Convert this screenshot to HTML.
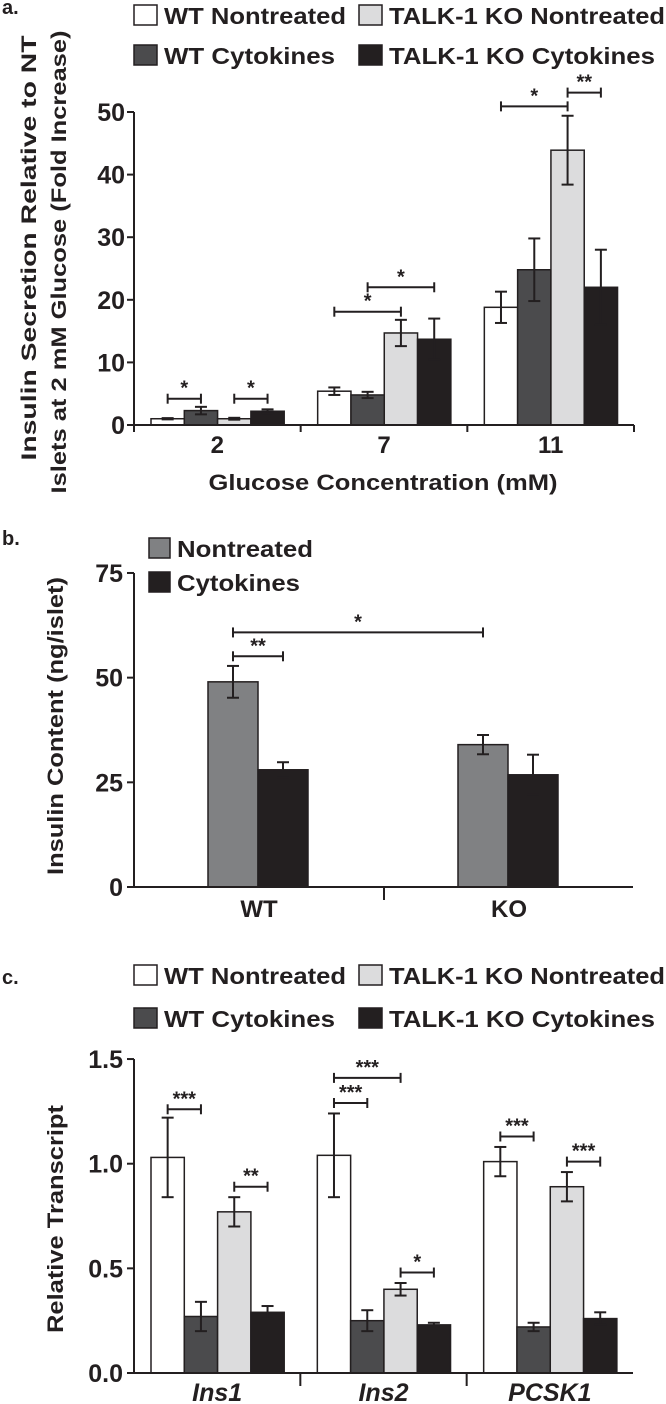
<!DOCTYPE html>
<html><head><meta charset="utf-8">
<style>
html,body{margin:0;padding:0;background:#fff;}
svg{display:block;font-family:"Liberation Sans",Arial,sans-serif;font-weight:bold;fill:#231f20;}
</style></head>
<body>
<svg id="fig" width="666" height="1404" viewBox="0 0 666 1404" xmlns="http://www.w3.org/2000/svg"></svg>
<script>
// ---------- Panel a data ----------
const aCategories = ["2", "7", "11"];
const aWTNT = [1.0, 5.4, 18.8];
const aWTNTerr = [0.1, 0.6, 2.5];
const aWTCy = [2.3, 4.8, 24.8];
const aWTCyerr = [0.6, 0.5, 5.0];
const aKONT = [1.0, 14.7, 43.9];
const aKONTerr = [0.15, 2.1, 5.5];
const aKOCy = [2.2, 13.7, 22.0];
const aKOCyerr = [0.3, 3.3, 6.0];
const aTicks = [0, 10, 20, 30, 40, 50];
// brackets: [group, barFrom, barTo, value, label]
const aSig = [[0,0,1,4.2,"*"],[0,2,3,4.2,"*"],[1,0,2,18.1,"*"],[1,1,3,22.0,"*"],[2,0,2,50.9,"*"],[2,2,3,53.1,"**"]];

// ---------- Panel b data ----------
const bCategories = ["WT", "KO"];
const bNT = [49.0, 34.0];
const bNTerr = [3.8, 2.3];
const bCy = [28.0, 26.8];
const bCyerr = [1.8, 4.8];
const bTicks = [0, 25, 50, 75];
// brackets: [groupFrom, barFrom, groupTo, barTo, value, label]
const bSig = [[0,0,0,1,55.1,"**"],[0,0,1,0,60.8,"*"]];

// ---------- Panel c data ----------
const cCategories = ["Ins1", "Ins2", "PCSK1"];
const cWTNT = [1.03, 1.04, 1.01];
const cWTNTerr = [0.19, 0.20, 0.07];
const cWTCy = [0.27, 0.25, 0.22];
const cWTCyerr = [0.07, 0.05, 0.02];
const cKONT = [0.77, 0.40, 0.89];
const cKONTerr = [0.07, 0.03, 0.07];
const cKOCy = [0.29, 0.23, 0.26];
const cKOCyerr = [0.03, 0.01, 0.03];
const cTicks = [0.0, 0.5, 1.0, 1.5];
const cTickLabels = ["0.0", "0.5", "1.0", "1.5"];
const cSig = [[0,0,1,1.26,"***"],[0,2,3,0.89,"**"],[1,0,1,1.29,"***"],[1,0,2,1.41,"***"],[1,2,3,0.48,"*"],[2,0,1,1.13,"***"],[2,2,3,1.01,"***"]];

const NS = "http://www.w3.org/2000/svg";
const svg = document.getElementById("fig");
const INK = "#231f20";
const COLS = ["#ffffff", "#4b4b4d", "#dcdcdd", "#231f20"];

function mk(tag, attrs, parent) {
  const e = document.createElementNS(NS, tag);
  for (const k in attrs) e.setAttribute(k, attrs[k]);
  (parent || svg).appendChild(e);
  return e;
}
function txt(s, x, y, size, anchor, extra, parent) {
  const t = mk("text", Object.assign({x: x, y: y, "font-size": size, "text-anchor": anchor || "start"}, extra || {}), parent);
  t.textContent = s;
  return t;
}
function line(x1, y1, x2, y2, w, parent) {
  return mk("line", {x1: x1, y1: y1, x2: x2, y2: y2, stroke: INK, "stroke-width": w || 2}, parent);
}
function errbar(cx, yTop, yBot, parent) {
  const g = mk("g", {}, parent);
  
  
  line(cx, yTop, cx, yBot, 2, g);
  line(cx - 6, yTop, cx + 6, yTop, 2, g);
  line(cx - 6, yBot, cx + 6, yBot, 2, g);
}
function bracket(x1, x2, y, label, parent) {
  const g = mk("g", {}, parent);
  
  
  line(x1, y, x2, y, 2, g);
  line(x1, y - 5, x1, y + 5, 2, g);
  line(x2, y - 5, x2, y + 5, 2, g);
  txt(label, (x1 + x2) / 2, y - 4, 20, "middle", {}, g);
}
function legendEntry(x, y, color, label, len, parent, bw, bh) {
  const g = mk("g", {}, parent);
  
  
  mk("rect", {x: x, y: y, width: bw || 23, height: bh || 20, fill: color, stroke: INK, "stroke-width": 1.5}, g);
  txt(label, x + (bw || 23) + 7, y + (bh || 20) - 1, 23, "start", {textLength: len, lengthAdjust: "spacingAndGlyphs"}, g);
}

// ===================== PANEL A =====================
(function(){
  const p = mk("g", {});
  
  
  txt("a.", 2, 14, 20, "start", {}, p);
  const leg = mk("g", {}, p);
  
  
  legendEntry(134, 5, COLS[0], "WT Nontreated", 182, leg);
  legendEntry(359, 5, COLS[2], "TALK-1 KO Nontreated", 276, leg);
  legendEntry(134, 45, COLS[1], "WT Cytokines", 171, leg);
  legendEntry(359, 45, COLS[3], "TALK-1 KO Cytokines", 266, leg);

  const X0 = 134, X1 = 634, Y0 = 425, K = 6.26;
  const y = v => Y0 - v * K;
  const gw = (X1 - X0) / aCategories.length, bw = 33.3, off = 17;
  const bx = (g, i) => X0 + g * gw + off + i * bw;

  const series = [[aWTNT, aWTNTerr], [aWTCy, aWTCyerr], [aKONT, aKONTerr], [aKOCy, aKOCyerr]];
  const names = ["wt-nontreated", "wt-cytokines", "ko-nontreated", "ko-cytokines"];
  series.forEach((s, i) => {
    s[0].forEach((v, g) => {
      const r = mk("rect", {x: bx(g, i), y: y(v), width: bw, height: Y0 - y(v), fill: COLS[i], stroke: INK, "stroke-width": 1.5}, p);
      
      
      errbar(bx(g, i) + bw / 2, y(v + s[1][g]), y(v - s[1][g]), p);
    });
  });
  aSig.forEach(s => bracket(bx(s[0], s[1]) + bw / 2, bx(s[0], s[2]) + bw / 2, y(s[3]), s[4], p));

  const ax = mk("g", {}, p);
  
  
  line(X0, y(aTicks[aTicks.length - 1]), X0, Y0 + 7, 2, ax);
  aTicks.forEach(t => {
    line(X0 - 7, y(t), X0, y(t), 2, ax);
    txt(String(t), X0 - 9, y(t) + 9, 25, "end", {}, ax);
  });
  const xa = mk("g", {}, p);
  
  
  line(X0, Y0, X1, Y0, 2, xa);
  for (let g = 0; g <= aCategories.length; g++) line(X0 + g * gw, Y0, X0 + g * gw, Y0 + 7, 2, xa);
  aCategories.forEach((c, g) => txt(c, X0 + g * gw + gw / 2, 453, 24, "middle", {}, xa));
  const xt = txt("Glucose Concentration (mM)", 383, 490, 22, "middle", {textLength: 349, lengthAdjust: "spacingAndGlyphs"}, p);
  
  
  const yt = mk("g", {}, p);
  
  
  txt("Insulin Secretion Relative to NT", 0, 0, 21, "middle", {transform: "translate(36,248) rotate(-90)", textLength: 425, lengthAdjust: "spacingAndGlyphs"}, yt);
  txt("Islets at 2 mM Glucose (Fold Increase)", 0, 0, 21, "middle", {transform: "translate(66,262) rotate(-90)", textLength: 463, lengthAdjust: "spacingAndGlyphs"}, yt);
})();

// ===================== PANEL B =====================
(function(){
  const p = mk("g", {});
  
  
  txt("b.", 2, 545, 20, "start", {}, p);
  const leg = mk("g", {}, p);
  
  
  legendEntry(149, 538, "#808183", "Nontreated", 136, leg, 21, 20);
  legendEntry(149, 572, "#231f20", "Cytokines", 123, leg, 21, 20);

  const X0 = 134, X1 = 633, Y0 = 887, K = 4.187;
  const y = v => Y0 - v * K;
  const gw = 250, bw = 50, off = 74;
  const bx = (g, i) => X0 + g * gw + off + i * bw;
  const series = [[bNT, bNTerr, "#808183", "nontreated"], [bCy, bCyerr, "#231f20", "cytokines"]];
  series.forEach((s, i) => {
    s[0].forEach((v, g) => {
      const r = mk("rect", {x: bx(g, i), y: y(v), width: bw, height: Y0 - y(v), fill: s[2], stroke: INK, "stroke-width": 1.5}, p);
      
      
      errbar(bx(g, i) + bw / 2, y(v + s[1][g]), y(v - s[1][g]), p);
    });
  });
  bSig.forEach(s => bracket(bx(s[0], s[1]) + bw / 2, bx(s[2], s[3]) + bw / 2, y(s[4]), s[5], p));

  const ax = mk("g", {}, p);
  
  
  line(X0, y(bTicks[bTicks.length - 1]), X0, Y0, 2, ax);
  bTicks.forEach(t => {
    line(X0 - 7, y(t), X0, y(t), 2, ax);
    txt(String(t), X0 - 11, y(t) + 9, 25, "end", {}, ax);
  });
  const xa = mk("g", {}, p);
  
  
  line(X0 - 7, Y0, X1, Y0, 2, xa);
  line(X0 + gw, Y0, X0 + gw, Y0 + 13, 2, xa);
  bCategories.forEach((c, g) => txt(c, X0 + g * gw + gw / 2, 917, 24, "middle", {}, xa));
  const yt = txt("Insulin Content (ng/islet)", 0, 0, 22, "middle", {transform: "translate(63,726) rotate(-90)", textLength: 298, lengthAdjust: "spacingAndGlyphs"}, p);
  
  
})();

// ===================== PANEL C =====================
(function(){
  const p = mk("g", {});
  
  
  txt("c.", 2, 984, 20, "start", {}, p);
  const leg = mk("g", {}, p);
  
  
  legendEntry(134, 965, COLS[0], "WT Nontreated", 182, leg);
  legendEntry(359, 965, COLS[2], "TALK-1 KO Nontreated", 276, leg);
  legendEntry(134, 1008, COLS[1], "WT Cytokines", 171, leg);
  legendEntry(359, 1008, COLS[3], "TALK-1 KO Cytokines", 266, leg);

  const X0 = 134, X1 = 633, Y0 = 1373, K = 209.3;
  const y = v => Y0 - v * K;
  const gw = (X1 - X0) / cCategories.length, bw = 33.3, off = 17;
  const bx = (g, i) => X0 + g * gw + off + i * bw;
  const series = [[cWTNT, cWTNTerr], [cWTCy, cWTCyerr], [cKONT, cKONTerr], [cKOCy, cKOCyerr]];
  const names = ["wt-nontreated", "wt-cytokines", "ko-nontreated", "ko-cytokines"];
  series.forEach((s, i) => {
    s[0].forEach((v, g) => {
      const r = mk("rect", {x: bx(g, i), y: y(v), width: bw, height: Y0 - y(v), fill: COLS[i], stroke: INK, "stroke-width": 1.5}, p);
      
      
      errbar(bx(g, i) + bw / 2, y(v + s[1][g]), y(v - s[1][g]), p);
    });
  });
  cSig.forEach(s => bracket(bx(s[0], s[1]) + bw / 2, bx(s[0], s[2]) + bw / 2, y(s[3]), s[4], p));

  const ax = mk("g", {}, p);
  
  
  line(X0, y(cTicks[cTicks.length - 1]), X0, Y0, 2, ax);
  cTicks.forEach((t, i) => {
    line(X0 - 7, y(t), X0, y(t), 2, ax);
    txt(cTickLabels[i], X0 - 11, y(t) + 9, 25, "end", {}, ax);
  });
  const xa = mk("g", {}, p);
  
  
  line(X0 - 7, Y0, X1, Y0, 2, xa);
  for (let g = 1; g < cCategories.length; g++) line(X0 + g * gw, Y0, X0 + g * gw, Y0 + 13, 2, xa);
  cCategories.forEach((c, g) => txt(c, X0 + g * gw + gw / 2, 1401, 25, "middle", {"font-style": "italic"}, xa));
  const yt = txt("Relative Transcript", 0, 0, 22, "middle", {transform: "translate(63,1219) rotate(-90)", textLength: 228, lengthAdjust: "spacingAndGlyphs"}, p);
  
  
})();
</script>
</body></html>
